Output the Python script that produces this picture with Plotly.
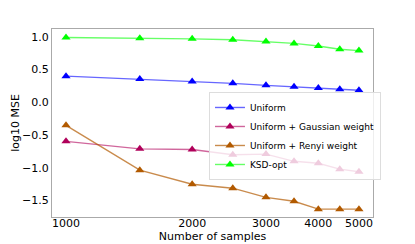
import plotly.graph_objects as go

samples = [1000, 1500, 2000, 2500, 3000, 3500, 4000, 4500, 5000]
uniform = [0.40, 0.355, 0.32, 0.29, 0.26, 0.24, 0.22, 0.20, 0.185]
gaussian = [-0.595, -0.71, -0.72, -0.80, -0.79, -0.90, -0.93, -1.02, -1.06]
renyi = [-0.35, -1.035, -1.25, -1.31, -1.45, -1.51, -1.63, -1.63, -1.63]
ksd = [0.99, 0.98, 0.97, 0.955, 0.93, 0.90, 0.86, 0.81, 0.79]

series = [
    ("Uniform", uniform, "#0000ff", "rgba(0,0,255,0.6)"),
    ("Uniform + Gaussian weight", gaussian, "#b0005a", "rgba(176,0,90,0.6)"),
    ("Uniform + Renyi weight", renyi, "#b25a00", "rgba(178,90,0,0.7)"),
    ("KSD-opt", ksd, "#00ff00", "rgba(0,255,0,0.6)"),
]

xticks = [1000, 2000, 3000, 4000, 5000]
yticks = [1.0, 0.5, 0.0, -0.5, -1.0, -1.5]

fig = go.Figure()
for name, vals, mc, lc in series:
    fig.add_trace(go.Scatter(
        x=samples, y=vals, name=name, mode="lines+markers",
        line=dict(color=lc, width=1.4),
        marker=dict(symbol="triangle-up", size=8, color=mc),
    ))

fig.update_layout(
    width=415, height=244,
    margin=dict(l=52, r=42, t=29, b=27),
    paper_bgcolor="white", plot_bgcolor="white",
    font=dict(family="DejaVu Sans", size=11, color="black"),
    showlegend=True,
    legend=dict(
        x=0.489, y=0.665, xanchor="left", yanchor="top",
        bgcolor="rgba(255,255,255,0.8)", bordercolor="#dddddd", borderwidth=1,
        font=dict(size=9), tracegroupgap=0, itemwidth=30,
    ),
    xaxis=dict(
        type="log", range=[2.9666, 3.7325], automargin=False,
        tickvals=xticks, ticktext=[str(v) for v in xticks],
        showgrid=False, zeroline=False,
        showline=True, linecolor="#aaaaaa", linewidth=1, mirror=True,
        ticks="", ticklabelstandoff=-4,
        title=dict(text="Number of samples", standoff=0, font=dict(size=11)),
    ),
    yaxis=dict(
        range=[-1.75, 1.12], automargin=False,
        tickvals=yticks, ticktext=["1.0", "0.5", "0.0", "\u22120.5", "\u22121.0", "\u22121.5"],
        showgrid=False, zeroline=False,
        showline=True, linecolor="#aaaaaa", linewidth=1, mirror=True,
        ticks="", title=dict(text="log10 MSE", standoff=0, font=dict(size=11)),
    ),
)

fig.write_html("out.html", config={"displayModeBar": False},
               post_script="document.body.style.margin='0px';")
